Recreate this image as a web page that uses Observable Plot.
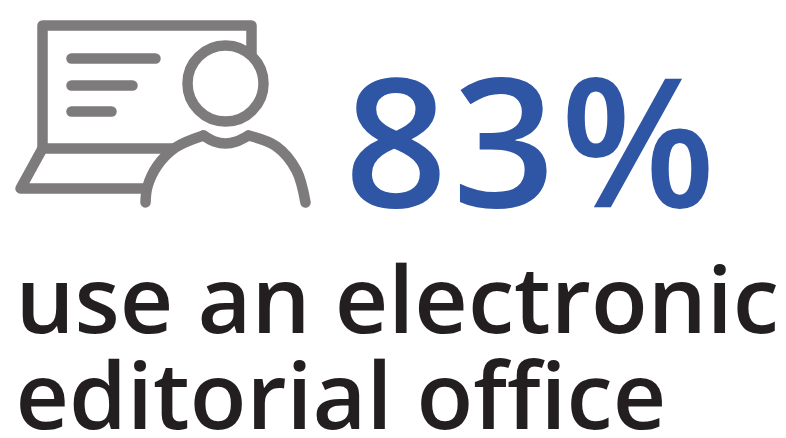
<!DOCTYPE html>
<html><head><meta charset="utf-8">
<script src="https://cdn.jsdelivr.net/npm/d3@7"></script>
<script src="https://cdn.jsdelivr.net/npm/@observablehq/plot@0.6"></script>
<style>html,body{margin:0;padding:0;background:#fff}svg{display:block}.share text{letter-spacing:5px}</style>
</head><body><div id="chart"></div>
<script>
const share = ["83%"];
const captionLines = ["use an electronic", "editorial office"];
const captionBaselines = [332, 428];
const screenOutline = [[172,148],[42,148],[42,25],[251,25],[251,52]];
const laptopBase = [[42,148],[20,188],[143,188]];
const textLines = [
  [[71,58],[155,58]],
  [[71,85],[132,85]],
  [[71,111],[111,111]]
];
const head = [[225,83]];
const shoulderLeft = [[145,202],[147,186],[157,165],[175,147],[203,135]];
const shoulderDip = [[203,135],[214,141],[225,143],[236,141],[248,135]];
const shoulderRight = [[248,135],[276,146],[296,170],[305,202]];
const grey = "#7e7b7d";
const pathStyle = {x:d=>d[0],y:d=>d[1],stroke:grey,strokeWidth:10.5,strokeLinecap:"round",strokeLinejoin:"round"};
const chart = Plot.plot({
  width:786,height:438,margin:0,
  x:{domain:[0,786],range:[0,786],axis:null},
  y:{domain:[0,438],range:[0,438],axis:null},
  marks:[
    Plot.line(screenOutline,pathStyle),
    Plot.line(laptopBase,pathStyle),
    ...textLines.map(l=>Plot.line(l,pathStyle)),
    Plot.dot(head,{x:d=>d[0],y:d=>d[1],r:38,stroke:grey,fill:"#fff",strokeWidth:10.5}),
    Plot.line(shoulderLeft,{...pathStyle,curve:"catmull-rom"}),
    Plot.line(shoulderDip,{...pathStyle,curve:"catmull-rom"}),
    Plot.line(shoulderRight,{...pathStyle,curve:"catmull-rom"}),
    Plot.text(share,{x:()=>344,y:()=>206,text:d=>d,textAnchor:"start",lineAnchor:"bottom",fill:"#2f55a5",fontSize:180,fontFamily:"Open Sans",fontWeight:600,className:"share"}),
    Plot.text(captionLines,{x:()=>15,y:(d,i)=>captionBaselines[i],text:d=>d,textAnchor:"start",lineAnchor:"bottom",fill:"#231f20",fontSize:93,fontFamily:"Open Sans",fontWeight:600})
  ]
});
document.getElementById("chart").append(chart);
</script></body></html>
